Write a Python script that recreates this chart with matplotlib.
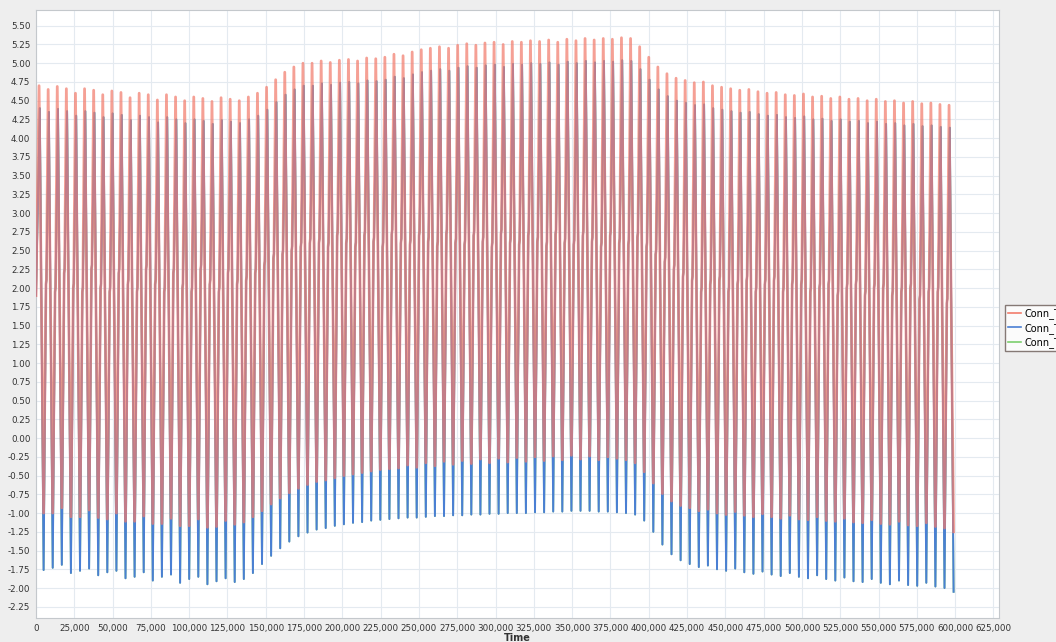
import numpy as np
import matplotlib
matplotlib.use("Agg")
import matplotlib.pyplot as plt
from matplotlib.ticker import MultipleLocator, FuncFormatter

# ---------------- data ----------------
series_names = ["Conn_T1", "Conn_T2", "Conn_T4"]
period = 5940          # time between successive peaks
first_peak = 2000      # time of the first peak
start_value = 1.9      # value at time 0

red_peak = [4.70, 4.65, 4.69, 4.66, 4.60, 4.66, 4.64, 4.58, 4.63, 4.61, 4.54, 4.60, 4.58, 4.51, 4.58, 4.55, 4.50, 4.55,
            4.53, 4.49, 4.54, 4.52, 4.50, 4.55,
            4.60, 4.68, 4.78, 4.88, 4.95, 5.00,
            5.00, 5.03, 5.01, 5.04, 5.05, 5.03, 5.07, 5.06, 5.08,
            5.12, 5.10, 5.15, 5.18, 5.20,
            5.22, 5.20, 5.24, 5.26, 5.24, 5.27, 5.28, 5.25, 5.29, 5.28, 5.30,
            5.29, 5.31, 5.28, 5.32, 5.30, 5.33, 5.31, 5.33, 5.32, 5.34, 5.33,
            5.22, 5.08, 4.95, 4.86, 4.80,
            4.77, 4.74, 4.75, 4.70, 4.68, 4.66, 4.64, 4.65, 4.62,
            4.60, 4.61, 4.58, 4.57, 4.59, 4.55, 4.56, 4.53, 4.55, 4.52, 4.53, 4.50, 4.52, 4.49, 4.50, 4.47, 4.49, 4.46, 4.47, 4.45, 4.44]

red_low = [-1.00, -1.00, -0.93, -1.05, -1.05, -0.96, -1.06, -1.08, -1.00, -1.11, -1.11, -1.04, -1.14, -1.14, -1.07, -1.17, -1.17, -1.08, -1.19, -1.18, -1.10, -1.15,
           -1.12, -1.05, -0.97, -0.88, -0.80, -0.73, -0.67, -0.62,
           -0.58, -0.56, -0.53, -0.50, -0.48, -0.46, -0.44, -0.42, -0.41,
           -0.40, -0.36, -0.39, -0.33, -0.37, -0.31, -0.35, -0.30, -0.34, -0.28, -0.33, -0.27, -0.32, -0.26, -0.31, -0.25,
           -0.30, -0.24, -0.29, -0.23, -0.28, -0.24, -0.29, -0.25, -0.27, -0.29, -0.33,
           -0.45, -0.60, -0.74, -0.84, -0.90,
           -0.93, -0.97, -0.95, -1.00, -1.02, -0.98, -1.03, -1.05, -1.01,
           -1.05, -1.07, -1.03, -1.08, -1.09, -1.05, -1.10, -1.11, -1.07, -1.12, -1.13, -1.09, -1.14, -1.15, -1.11, -1.16, -1.17, -1.13, -1.18, -1.20, -1.25]

blue_peak = [4.40, 4.35, 4.39, 4.36, 4.30, 4.36, 4.34, 4.28, 4.33, 4.31, 4.24, 4.30, 4.28, 4.21, 4.28, 4.25, 4.20, 4.25,
             4.23, 4.19, 4.24, 4.22, 4.20, 4.25,
             4.30, 4.38, 4.48, 4.58, 4.65, 4.70,
             4.70, 4.73, 4.71, 4.74, 4.75, 4.73, 4.77, 4.76, 4.78,
             4.82, 4.80, 4.85, 4.88, 4.90,
             4.92, 4.90, 4.94, 4.96, 4.94, 4.97, 4.98, 4.95, 4.99, 4.98, 5.00,
             4.99, 5.01, 4.98, 5.02, 5.00, 5.03, 5.01, 5.03, 5.02, 5.04, 5.03,
             4.92, 4.78, 4.65, 4.56, 4.50,
             4.47, 4.44, 4.45, 4.40, 4.38, 4.36, 4.34, 4.35, 4.32,
             4.30, 4.31, 4.28, 4.27, 4.29, 4.25, 4.26, 4.23, 4.25, 4.22, 4.23, 4.20, 4.22, 4.19, 4.20, 4.17, 4.19, 4.16, 4.17, 4.15, 4.14]

blue_low = [-1.76, -1.73, -1.69, -1.80, -1.77, -1.74, -1.83, -1.79, -1.77, -1.87, -1.85, -1.79, -1.90, -1.85, -1.82, -1.93, -1.88, -1.85, -1.95, -1.91, -1.87, -1.92,
            -1.88, -1.80, -1.68, -1.57, -1.47, -1.38, -1.31, -1.26,
            -1.22, -1.20, -1.17, -1.15, -1.13, -1.12, -1.10, -1.09, -1.08,
            -1.07, -1.06, -1.06, -1.05, -1.04, -1.04, -1.03, -1.03, -1.02, -1.02, -1.01, -1.01, -1.00, -1.00, -1.00, -0.99,
            -0.99, -0.98, -0.98, -0.97, -0.97, -0.97, -0.98, -0.98, -0.99, -1.00, -1.02,
            -1.10, -1.25, -1.42, -1.55, -1.63,
            -1.68, -1.72, -1.70, -1.75, -1.77, -1.74, -1.79, -1.81, -1.78,
            -1.82, -1.84, -1.80, -1.85, -1.87, -1.83, -1.88, -1.90, -1.86, -1.91, -1.92, -1.88, -1.93, -1.95, -1.90, -1.96, -1.97, -1.93, -1.98, -2.00, -2.05]

mid_level = [2.05, 1.95, 2.20, 2.00, 1.95, 2.25, 2.00, 1.95, 2.20, 2.05, 1.95, 2.25, 2.05, 1.95, 2.20, 2.00, 1.95, 2.25, 2.05, 1.95, 2.20, 2.05, 2.10, 2.20,
             2.30, 2.40, 2.45, 2.50, 2.55, 2.60,
             2.60, 2.55, 2.70, 2.60, 2.55, 2.70, 2.62, 2.55, 2.72, 2.60, 2.58, 2.70,
             2.62, 2.56, 2.72, 2.60, 2.58, 2.70, 2.62, 2.55, 2.72, 2.60, 2.58, 2.70,
             2.62, 2.56, 2.72, 2.60, 2.58, 2.70, 2.62, 2.55, 2.70, 2.60, 2.58, 2.68,
             2.55, 2.45, 2.35, 2.25, 2.15,
             2.10, 1.95, 2.05, 2.10, 1.95, 2.05, 2.10, 1.95, 2.05, 2.10, 1.95, 2.05, 2.05, 1.95, 2.00, 2.05, 1.90, 2.00, 2.05, 1.90,
             2.00, 2.00, 1.90, 1.95, 2.00, 1.85, 1.95, 1.95, 1.80, 1.75]


def build(peaks, lows, mids, shift):
    xs, ys = [0.0], [start_value]
    n = len(peaks)
    for k in range(n):
        tp = first_peak + k * period + shift
        xs.append(tp); ys.append(peaks[k])
        tt = first_peak + (k + 0.5) * period
        xs.append(tt); ys.append(lows[k])
        if k < n - 1:
            xs += [tt + 0.26 * period, tt + 0.31 * period]
            ys += [mids[k], mids[k] + 0.06]
    return np.array(xs), np.array(ys)


x_red, y_red = build(red_peak, red_low, mid_level, 0.0)
x_blue, y_blue = build(blue_peak, blue_low, mid_level, 0.08 * period)
x_green, y_green = build(blue_peak, blue_low, mid_level, 0.08 * period)

# ---------------- figure ----------------
W, H = 1056, 642
fig = plt.figure(figsize=(W / 100, H / 100), dpi=100, facecolor="#eeeeee")
ax = fig.add_axes([36 / W, 1 - 618 / H, (999 - 36) / W, (618 - 10) / H])
ax.set_facecolor("white")

ax.plot(x_green, y_green, color="#7ccf6e", lw=1.3, label=series_names[2], zorder=2)
ax.plot(x_blue, y_blue, color="#4a7fd4", lw=1.4, label=series_names[1], zorder=3)
ax.plot(x_red, y_red, color="#f27c6c", lw=2.0, alpha=0.72, label=series_names[0], zorder=4)

ax.set_xlim(0, 628600)
ax.set_ylim(-2.40, 5.71)
ax.xaxis.set_major_locator(MultipleLocator(25000))
ax.yaxis.set_major_locator(MultipleLocator(0.25))
ax.xaxis.set_major_formatter(FuncFormatter(lambda v, p: f"{int(round(v)):,}"))
ax.yaxis.set_major_formatter(FuncFormatter(lambda v, p: f"{v:.2f}"))
ax.grid(True, color="#e4eaf0", lw=0.8, zorder=0)
ax.set_axisbelow(True)
ax.tick_params(length=0, labelsize=6.3, colors="#333333", pad=4)
for s in ax.spines.values():
    s.set_color("#c4c8cc")
    s.set_linewidth(0.8)
ax.set_xlabel("Time", fontsize=7, fontweight="bold", color="#333333", labelpad=0)

handles, labels = ax.get_legend_handles_labels()
order = [2, 1, 0]
leg = fig.legend([handles[i] for i in order], [labels[i] for i in order],
                 loc="upper left", bbox_to_anchor=(1005 / W, 1 - 305 / H),
                 fontsize=7, frameon=True, fancybox=False, edgecolor="#6a5a55",
                 facecolor="white", handlelength=1.3, borderpad=0.35,
                 labelspacing=0.35, handletextpad=0.4, borderaxespad=0)
for lh in leg.get_lines():
    lh.set_alpha(1)
    lh.set_linewidth(1.2)

fig.savefig("out.png", dpi=100, facecolor=fig.get_facecolor())
